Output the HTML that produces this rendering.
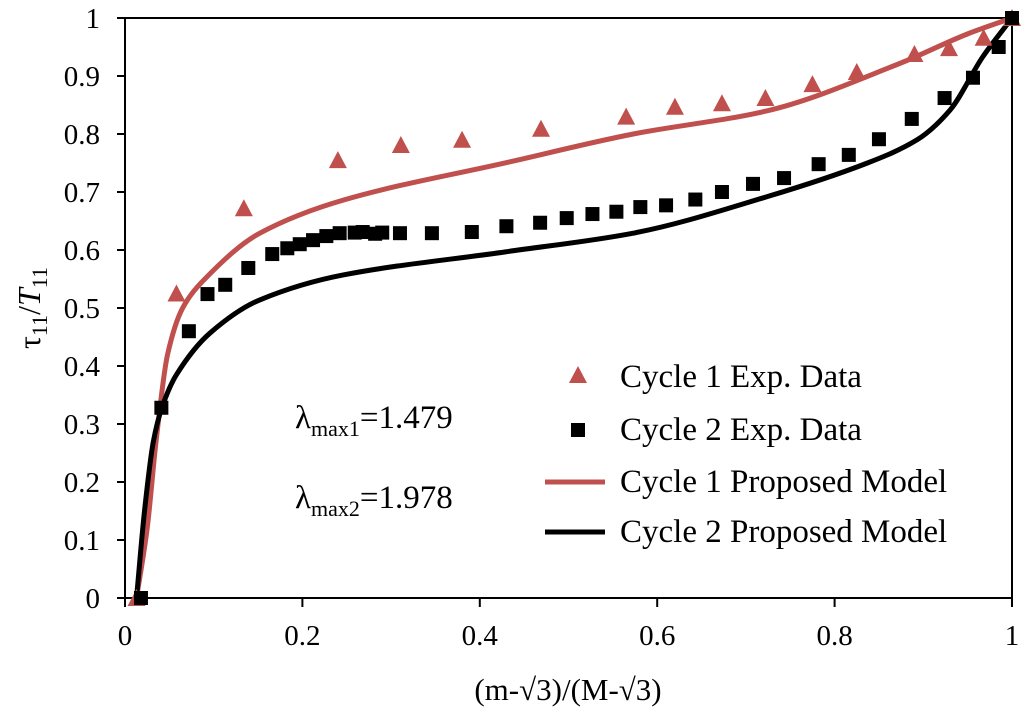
<!DOCTYPE html>
<html><head><meta charset="utf-8"><style>
body{margin:0;background:#fff;}
svg text{font-family:"Liberation Serif",serif;fill:#000;}
</style></head><body>
<svg id="chart" width="1024" height="711">
<g id="axes"></g><g id="marks"></g>
<g>
 <polygon points="578,366 569,383 587,383" fill="#c0504d"/>
 <text x="620" y="387" font-size="33">Cycle 1 Exp. Data</text>
 <rect x="571" y="423" width="14" height="14" fill="#000"/>
 <text x="620" y="440" font-size="33">Cycle 2 Exp. Data</text>
 <line x1="545" y1="482" x2="605" y2="482" stroke="#c0504d" stroke-width="5"/>
 <text x="620" y="492" font-size="33">Cycle 1 Proposed Model</text>
 <line x1="545" y1="532" x2="605" y2="532" stroke="#000" stroke-width="5"/>
 <text x="620" y="542" font-size="33">Cycle 2 Proposed Model</text>
</g>
<text x="295" y="428" font-size="33">λ<tspan font-size="22" dy="8">max1</tspan><tspan dy="-8">=1.479</tspan></text>
<text x="295" y="508" font-size="33">λ<tspan font-size="22" dy="8">max2</tspan><tspan dy="-8">=1.978</tspan></text>
<text x="568" y="700" font-size="31" text-anchor="middle">(m-√3)/(M-√3)</text>
<text transform="translate(40,308) rotate(-90)" font-size="32" text-anchor="middle">τ<tspan font-size="22" dy="7">11</tspan><tspan dy="-7">/</tspan><tspan font-style="italic">T</tspan><tspan font-size="22" dy="7">11</tspan></text>
</svg>
<script>
const xTicks=[0,0.2,0.4,0.6,0.8,1];
const yTicks=[0,0.1,0.2,0.3,0.4,0.5,0.6,0.7,0.8,0.9,1];
const c1x=[0.013,0.058,0.134,0.24,0.311,0.38,0.469,0.565,0.62,0.673,0.722,0.775,0.825,0.89,0.929,0.968,1];
const c1y=[0,0.525,0.672,0.755,0.781,0.79,0.809,0.83,0.847,0.853,0.862,0.886,0.907,0.938,0.948,0.966,1];
const c2x=[0.018,0.041,0.072,0.093,0.113,0.139,0.166,0.183,0.197,0.212,0.227,0.242,0.259,0.268,0.282,0.29,0.31,0.346,0.391,0.43,0.468,0.498,0.527,0.554,0.581,0.61,0.643,0.673,0.708,0.743,0.782,0.816,0.85,0.887,0.924,0.956,0.985,1];
const c2y=[0,0.328,0.46,0.524,0.54,0.569,0.593,0.603,0.61,0.617,0.624,0.629,0.63,0.631,0.628,0.63,0.629,0.629,0.631,0.641,0.647,0.655,0.662,0.666,0.674,0.677,0.687,0.7,0.714,0.724,0.748,0.764,0.791,0.826,0.862,0.897,0.95,1];
const m1x=[0.013,0.025,0.035,0.048,0.065,0.09,0.152,0.246,0.434,0.573,0.724,0.874,0.949,1];
const m1y=[0,0.12,0.27,0.42,0.5,0.55,0.629,0.686,0.752,0.8,0.84,0.922,0.972,1];
const m2x=[0.013,0.022,0.032,0.042,0.058,0.096,0.152,0.246,0.43,0.573,0.724,0.837,0.893,0.93,0.967,1];
const m2y=[0,0.15,0.27,0.33,0.385,0.457,0.514,0.557,0.597,0.629,0.692,0.75,0.79,0.841,0.933,1];
const X=v=>125+v*887, Y=v=>598-v*580;
const NS='http://www.w3.org/2000/svg';
const axes=document.getElementById('axes'), marks=document.getElementById('marks');
function mk(t,a,p){const e=document.createElementNS(NS,t);for(const k in a)e.setAttribute(k,a[k]);p.appendChild(e);return e;}
let e;
e=mk('rect',{x:125,y:18,width:887,height:580,fill:'none',stroke:'#000','stroke-width':2},axes);


yTicks.forEach(v=>{
 e=mk('line',{x1:117,x2:125,y1:Y(v),y2:Y(v),stroke:'#000','stroke-width':2},axes);
 
 
 e=mk('text',{x:100,y:Y(v)+10,'font-size':29,'text-anchor':'end'},axes);e.textContent=String(v);
 
 
});
xTicks.forEach(v=>{
 e=mk('line',{x1:X(v),x2:X(v),y1:598,y2:607,stroke:'#000','stroke-width':2},axes);
 
 
 e=mk('text',{x:X(v),y:645,'font-size':29,'text-anchor':'middle'},axes);e.textContent=String(v);
 
 
});
function smooth(xs,ys){const p=xs.map((x,i)=>[X(x),Y(ys[i])]);const n=p.length;
 const d=[],m=[];for(let i=0;i<n-1;i++)d.push((p[i+1][1]-p[i][1])/(p[i+1][0]-p[i][0]));
 m[0]=d[0];m[n-1]=d[n-2];for(let i=1;i<n-1;i++)m[i]=(d[i-1]*d[i]<=0)?0:2/(1/d[i-1]+1/d[i]);
 let s='M'+p[0].join(',');
 for(let i=0;i<n-1;i++){const h=(p[i+1][0]-p[i][0])/3;
  s+=` C${p[i][0]+h},${p[i][1]+m[i]*h} ${p[i+1][0]-h},${p[i+1][1]-m[i+1]*h} ${p[i+1][0]},${p[i+1][1]}`;}
 return s;}
e=mk('path',{d:smooth(m1x,m1y),fill:'none',stroke:'#c0504d','stroke-width':5},marks);


e=mk('path',{d:smooth(m2x,m2y),fill:'none',stroke:'#000','stroke-width':5},marks);


c1x.forEach((x,i)=>{const cx=X(x),cy=Y(c1y[i]);
 e=mk('polygon',{points:`${cx},${cy-9} ${cx-9},${cy+8} ${cx+9},${cy+8}`,fill:'#c0504d'},marks);
 
 
});
c2x.forEach((x,i)=>{
 e=mk('rect',{x:X(x)-7,y:Y(c2y[i])-7,width:14,height:14,fill:'#000'},marks);
 
 
});
</script>
</body></html>
